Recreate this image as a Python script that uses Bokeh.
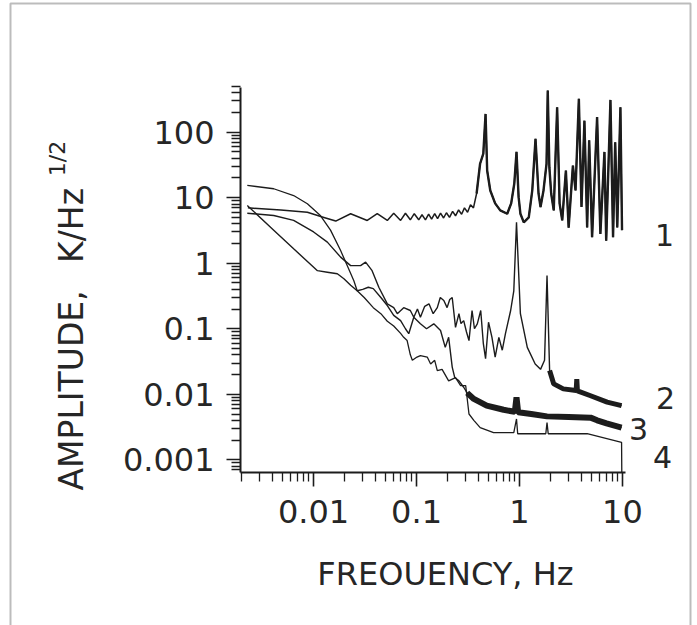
import numpy as np
from bokeh.plotting import figure
from bokeh.models import FixedTicker, CustomJSTickFormatter, Label, BoxAnnotation
from bokeh.embed import file_html
from bokeh.resources import INLINE

# ---------------- data ----------------
# curve 1
c1_f = [0.0023, 0.0048, 0.0087, 0.0126, 0.0164, 0.0229, 0.0332, 0.0415, 0.052, 0.060,
        0.070, 0.078, 0.087, 0.095, 0.105, 0.113, 0.122, 0.131, 0.140, 0.150,
        0.160, 0.171, 0.183, 0.195, 0.209, 0.224, 0.239, 0.256, 0.274, 0.292,
        0.313, 0.334, 0.357, 0.383, 0.414, 0.445, 0.468, 0.485, 0.52, 0.58,
        0.65, 0.76, 0.83, 0.89, 0.935, 0.98, 1.02, 1.10, 1.23, 1.33,
        1.43, 1.53, 1.60, 1.71, 1.83, 1.88, 1.95, 2.03, 2.15, 2.32,
        2.45, 2.6, 2.82, 3.0, 3.3, 3.5, 3.77, 4.0, 4.27, 4.54,
        4.75, 5.07, 5.67, 6.1, 6.68, 6.95, 7.64, 8.1, 8.5, 8.9,
        9.55, 9.9]
c1_v = [7.0, 6.5, 6.0, 5.0, 4.4, 5.7, 4.5, 5.7, 4.5, 5.8,
        4.5, 5.8, 4.6, 5.7, 4.6, 5.5, 4.6, 5.6, 4.7, 5.7,
        4.8, 5.8, 4.9, 5.9, 5.0, 6.2, 5.3, 6.5, 5.6, 7.0,
        6.0, 7.8, 7.0, 11.6, 33, 47, 190, 26, 12.9, 8.2,
        6.4, 5.7, 8.2, 16.5, 50, 10.2, 5.7, 4.2, 5.0, 12.9,
        79, 11.6, 7.2, 12.9, 33, 433, 29, 11.6, 6.4, 241,
        8.2, 4.5, 26, 3.5, 31, 12.9, 324, 7.2, 150, 3.5,
        75, 2.5, 170, 2.8, 50, 2.2, 311, 2.5, 70, 3.5,
        241, 3.2]

# curve 2
c2_f = [0.00227, 0.0041, 0.0064, 0.010, 0.0136, 0.0183, 0.0229, 0.0286, 0.032, 0.037,
        0.043, 0.052, 0.060, 0.065, 0.075, 0.087, 0.094, 0.102, 0.109, 0.120,
        0.132, 0.145, 0.159, 0.170, 0.184, 0.198, 0.210, 0.222, 0.239, 0.258,
        0.270, 0.287, 0.305, 0.323, 0.346, 0.365, 0.389, 0.420, 0.445, 0.468,
        0.50, 0.54, 0.58, 0.63, 0.68, 0.73, 0.82, 0.88, 0.935, 1.02,
        1.19, 1.42, 1.60, 1.75, 1.85, 1.96, 2.15, 2.66, 3.55, 3.6,
        3.65, 4.9, 7.1, 9.8]
c2_v = [5.8, 5.35, 4.5, 3.0, 2.1, 1.24, 0.92, 0.92, 1.04, 0.77,
        0.43, 0.24, 0.21, 0.17, 0.21, 0.19, 0.15, 0.20, 0.15, 0.22,
        0.24, 0.17, 0.21, 0.30, 0.27, 0.21, 0.28, 0.30, 0.105, 0.17,
        0.12, 0.133, 0.09, 0.066, 0.19, 0.10, 0.119, 0.19, 0.06, 0.035,
        0.126, 0.074, 0.037, 0.074, 0.047, 0.084, 0.19, 0.38, 4.2, 0.17,
        0.052, 0.029, 0.024, 0.033, 0.65, 0.023, 0.0144, 0.0121, 0.0114, 0.017,
        0.0113, 0.0095, 0.0076, 0.0067]

# curve 3
c3_f = [0.00227, 0.0041, 0.0064, 0.0109, 0.0136, 0.017, 0.0197, 0.0229, 0.0265, 0.030,
        0.034, 0.038, 0.045, 0.052, 0.060, 0.070, 0.078, 0.084, 0.094, 0.109,
        0.125, 0.147, 0.171, 0.190, 0.205, 0.222, 0.235, 0.258, 0.287, 0.310,
        0.36, 0.48, 0.70, 0.90, 0.935, 0.97, 1.3, 1.85, 3.0, 4.9,
        5.67, 7.0, 9.8]
c3_v = [7.6, 3.2, 1.66, 0.77, 0.73, 0.69, 0.58, 0.46, 0.38, 0.40,
        0.43, 0.41, 0.30, 0.226, 0.16, 0.133, 0.10, 0.084, 0.15, 0.119,
        0.10, 0.119, 0.094, 0.052, 0.074, 0.026, 0.018, 0.016, 0.0128, 0.0105,
        0.0085, 0.0067, 0.0058, 0.0054, 0.009, 0.0053, 0.0050, 0.0046, 0.0045, 0.0044,
        0.0040, 0.0036, 0.0031]

# curve 4
c4_f = [0.00227, 0.0041, 0.0064, 0.0087, 0.0117, 0.0146, 0.0183, 0.0212, 0.0246, 0.0265,
        0.031, 0.038, 0.045, 0.052, 0.060, 0.070, 0.075, 0.081, 0.087, 0.091,
        0.101, 0.109, 0.127, 0.137, 0.150, 0.159, 0.177, 0.205, 0.239, 0.267,
        0.30, 0.323, 0.36, 0.415, 0.56, 0.88, 0.935, 0.96, 1.0, 1.80,
        1.85, 1.9, 4.54, 9.8, 9.85]
c4_v = [15.4, 13.7, 10.8, 8.1, 5.3, 3.2, 1.56, 0.92, 0.54, 0.38,
        0.30, 0.21, 0.17, 0.13, 0.11, 0.085, 0.074, 0.066, 0.040, 0.033,
        0.037, 0.039, 0.037, 0.029, 0.033, 0.023, 0.024, 0.016, 0.018, 0.0136,
        0.0136, 0.005, 0.004, 0.0031, 0.0026, 0.0026, 0.0042, 0.0025, 0.0025, 0.0025,
        0.0037, 0.0025, 0.0025, 0.00185, 0.00065]

curve_names = ["1", "2", "3", "4"]
x_major = [0.01, 0.1, 1, 10]
y_major = [0.001, 0.01, 0.1, 1, 10, 100]
x_title = "FREOUENCY,  Hz"
y_title_a = "AMPLITUDE,"
y_title_b = "K/Hz"
y_title_sup = "1/2"

# ---------------- layout geometry ----------------
W, H = 697, 625
X_LO, X_HI = 0.00195, 10.7          # extent of the drawn x axis
Y_LO, Y_HI = 6.4e-4, 481            # extent of the drawn y axis
AX_L, AX_R, AX_T, AX_B = 240, 625, 87, 472   # canvas pixels of those extents

# the plot frame fills the whole canvas; axes are pinned at the data corner
lx0, lx1 = np.log10(X_LO), np.log10(X_HI)
ly0, ly1 = np.log10(Y_LO), np.log10(Y_HI)
kx = (lx1 - lx0) / (AX_R - AX_L)
ky = (ly1 - ly0) / (AX_B - AX_T)
x_range = (10 ** (lx0 - AX_L * kx), 10 ** (lx1 + (W - AX_R) * kx))
y_range = (10 ** (ly0 - (H - AX_B) * ky), 10 ** (ly1 + AX_T * ky))

FONT = "DejaVu Sans"
INK = "#1c1c1c"
TXT = "#262626"

p = figure(width=W, height=H, x_axis_type="log", y_axis_type="log",
           x_range=x_range, y_range=y_range,
           output_backend="svg", toolbar_location=None,
           min_border=0)
p.title.visible = False
p.background_fill_color = "white"
p.border_fill_color = "white"
p.outline_line_color = None
p.xgrid.visible = False
p.ygrid.visible = False

x_minor = [t for t in (k * 10.0 ** e for e in range(-3, 2) for k in range(2, 10))
           if X_LO <= t <= X_HI]
y_minor = [t for t in (k * 10.0 ** e for e in range(-4, 3) for k in range(2, 10))
           if Y_LO <= t <= 510]
p.xaxis.ticker = FixedTicker(ticks=x_major, minor_ticks=x_minor)
p.yaxis.ticker = FixedTicker(ticks=y_major, minor_ticks=y_minor)
fmt = CustomJSTickFormatter(code="return tick >= 1 ? tick.toFixed(0) : tick.toPrecision(1);")
p.xaxis.formatter = fmt
p.yaxis.formatter = fmt
p.xaxis.fixed_location = Y_LO
p.yaxis.fixed_location = X_LO
p.xaxis.bounds = (X_LO, X_HI)
p.yaxis.bounds = (Y_LO, Y_HI)

for ax in (p.xaxis, p.yaxis):
    ax.axis_line_width = 2
    ax.axis_line_color = INK
    ax.major_tick_line_color = INK
    ax.minor_tick_line_color = INK
    ax.major_tick_line_width = 1.6
    ax.minor_tick_line_width = 1.3
    ax.major_tick_in = 0
    ax.minor_tick_in = 0
    ax.major_tick_out = 14
    ax.minor_tick_out = 9
    ax.major_label_text_font = FONT
    ax.major_label_text_font_size = "32px"
    ax.major_label_text_color = TXT
p.xaxis.major_label_standoff = 13
p.yaxis.major_label_standoff = 12

# ---------------- curves ----------------
def draw(fs, vs, thin, thick, fmin):
    f = np.array(fs)
    v = np.array(vs)
    p.line(f, v, line_width=thin, color=INK)
    m = f >= fmin
    if m.any():
        p.line(f[m], v[m], line_width=thick, color=INK)

draw(c1_f, c1_v, 1.5, 2.4, 0.36)
draw(c2_f, c2_v, 1.4, 5.0, 1.96)
draw(c3_f, c3_v, 1.4, 6.0, 0.31)
draw(c4_f, c4_v, 1.3, 1.3, 100)

# ---------------- texts (positions given in canvas pixels, y down) ----------------
def lab(cx, cy, text, size, align="center", angle=0.0):
    p.add_layout(Label(x=cx, y=H - cy, x_units="screen", y_units="screen", text=text,
                       text_font=FONT, text_font_size=size, text_color=TXT,
                       text_align=align, text_baseline="middle", angle=angle))

for name, (lx, ly) in zip(curve_names, [(664, 234), (665, 397), (638, 428), (662, 456)]):
    lab(lx, ly, name, "30px")

lab(450, 573, x_title, "32px")
lab(71, 490, y_title_a, "33px", align="left", angle=np.pi / 2)
lab(71, 225, y_title_b, "33px", align="center", angle=np.pi / 2)
lab(57, 158, y_title_sup, "22px", align="center", angle=np.pi / 2)

# picture frame around the whole sheet
p.add_layout(BoxAnnotation(left=10, right=690, top=H - 3, bottom=-40,
                           left_units="screen", right_units="screen",
                           top_units="screen", bottom_units="screen",
                           fill_alpha=0, line_color="#222222", line_width=2))

open("out.html", "w").write(file_html(p, INLINE))
